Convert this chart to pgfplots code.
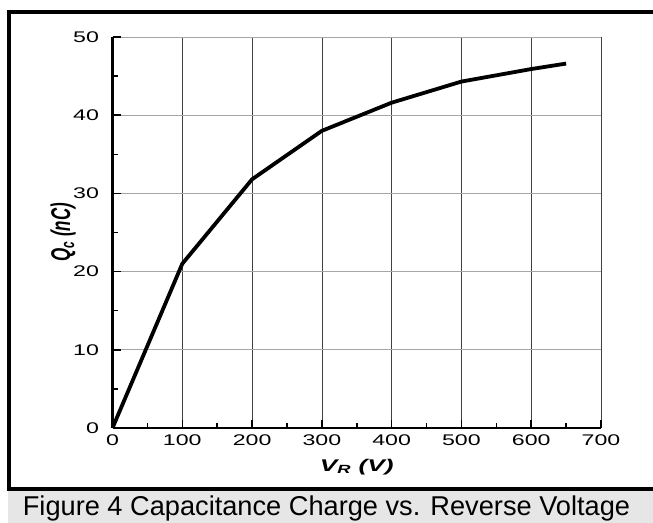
\documentclass[border=0pt]{standalone}
\usepackage{pgfplots}
\pgfplotsset{compat=1.18}
\usepackage{fontspec}
\setmainfont{Liberation Sans}
\usepackage{graphicx}
\definecolor{bandgray}{RGB}{230,230,230}
\begin{document}
\begin{tikzpicture}[x=1bp,y=1bp]
\useasboundingbox (0,0) rectangle (653,523);
\fill[bandgray] (8,0) rectangle (653,34);
\begin{axis}[
  at={(112.5bp,95bp)}, anchor=south west,
  scale only axis, width=488.5bp, height=391bp,
  xmin=0, xmax=700, ymin=0, ymax=50,
  xtick={0,100,...,700}, ytick={0,10,...,50},
  minor xtick={50,150,...,650}, minor ytick={5,15,...,45},
  axis x line*=bottom, axis y line*=left,
  axis line style={line width=2.8bp, -},
  tick align=inside,
  major tick length=8bp, minor tick length=5bp,
  every tick/.style={black, line width=1.5bp},
  grid=major,
  x grid style={black!75, line width=0.7bp},
  y grid style={black!35, line width=0.9bp},
  /pgf/number format/assume math mode=true,
  tick label style={font=\fontsize{15.5}{15.5}\selectfont},
  xticklabel={\scalebox{1.5}[1]{\pgfmathprintnumber{\tick}}},
  yticklabel={\scalebox{1.5}[1]{\pgfmathprintnumber{\tick}}},
  xticklabel style={yshift=-3bp},
  yticklabel style={xshift=-10bp},
  xlabel={\scalebox{1.55}[1]{\bfseries\itshape V\textsubscript{R} (V)}},
  ylabel={\scalebox{1}[1.6]{\bfseries\itshape Q\textsubscript{c} (nC)}},
  label style={font=\fontsize{17}{17}\selectfont},
  xlabel style={at={(axis description cs:0.5,-0.0997)}, anchor=center},
  ylabel style={at={(axis description cs:-0.1013,0.5)}, anchor=center, rotate=0},
  clip=false,
]
\addplot[black, line width=3.8bp, line join=round] coordinates {
  (0,0) (100,21) (200,31.8) (300,38) (400,41.6) (500,44.3) (600,45.9) (650,46.6)
};
\end{axis}
\draw[line width=3.5bp] (9,34) -- (9,511);
\draw[line width=3.5bp] (7.25,511) -- (660,511);
\draw[line width=3.5bp] (7.25,34) -- (660,34);
\node[font=\fontsize{27.3}{27.3}\selectfont, anchor=base, inner sep=0pt] at (326.5,7) {Figure 4 Capacitance Charge vs. Reverse Voltage};
\end{tikzpicture}
\end{document}
